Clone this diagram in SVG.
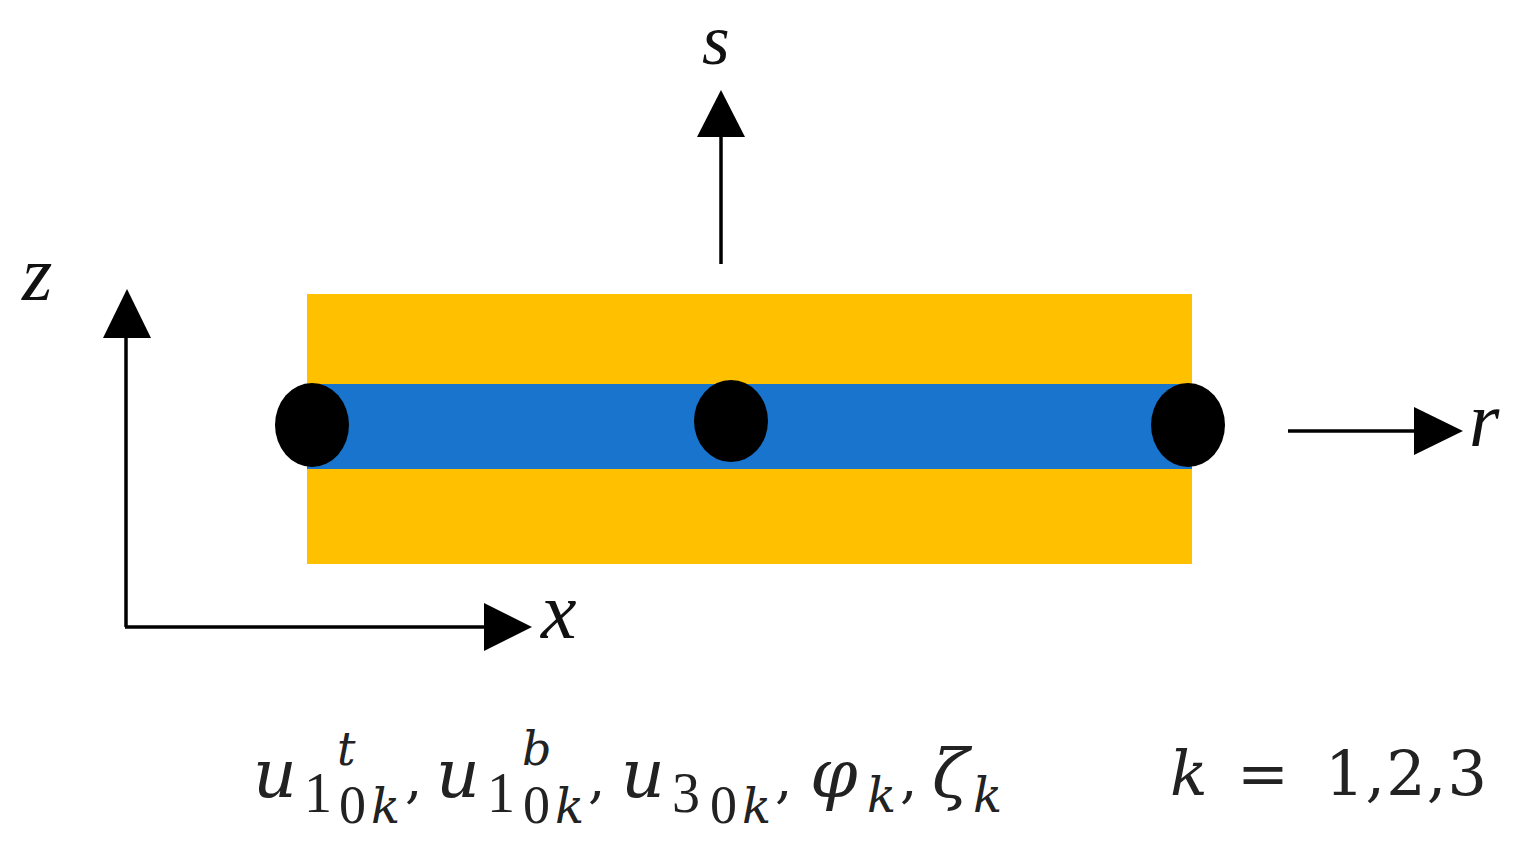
<svg xmlns="http://www.w3.org/2000/svg" width="1522" height="853" viewBox="0 0 1522 853">
<style>
.ax{fill:none;stroke:#000;stroke-width:3.5}
.it{font-family:"Liberation Serif",serif;font-style:italic;fill:#111}
.m{font-family:"DejaVu Serif","Liberation Serif",serif;fill:#222}
.d{font-family:"Liberation Serif",serif;fill:#222}
.mi{font-family:"DejaVu Serif","Liberation Serif",serif;font-style:italic;fill:#222}
.u{font-size:68px}
.big{font-size:56px}
.sub{font-size:54px}
.k{font-size:48px}
.c{font-size:55px}
</style>
<rect width="1522" height="853" fill="#fff"/>
<g id="plate">
<rect x="307" y="294" width="885" height="270" fill="#ffc000"/>
<rect x="307" y="384" width="885" height="85" fill="#1874cd"/>
</g>
<g id="node-left"><ellipse cx="312" cy="425" rx="37" ry="42"/></g>
<g id="node-mid"><ellipse cx="731" cy="421" rx="37" ry="41"/></g>
<g id="node-right"><ellipse cx="1188" cy="425" rx="37" ry="42"/></g>
<g id="connectors">
<path class="ax" d="M721 264V136"/><path d="M721 90L745 137H697Z"/>
<path class="ax" d="M126 627V336"/><path d="M127 289L151 338H103Z"/>
<path class="ax" d="M125 627H486"/><path d="M532 627L484 603V651Z"/>
<path class="ax" d="M1288 431H1416"/><path d="M1463 431L1414 407V455Z"/>
</g>
<g id="labels">
<text class="it" x="702" y="64" font-size="71">s</text>
<text class="it" x="22" y="300" font-size="78">z</text>
<text class="it" x="541" y="638" font-size="80">x</text>
<text class="it" x="1469" y="446" font-size="78">r</text>
<text class="mi u" x="253" y="797">u</text>
<text class="d big" x="304" y="812">1</text>
<text class="mi" x="337" y="765" font-size="46">t</text>
<text class="d sub" x="339" y="823">0</text>
<text class="mi k" x="371" y="823">k</text>
<text class="m c" x="405" y="797">,</text>
<text class="mi u" x="436" y="797">u</text>
<text class="d big" x="487" y="812">1</text>
<text class="mi" x="522" y="765" font-size="46">b</text>
<text class="d sub" x="523" y="823">0</text>
<text class="mi k" x="555" y="823">k</text>
<text class="m c" x="588" y="797">,</text>
<text class="mi u" x="621" y="797">u</text>
<text class="d big" x="672" y="812">3</text>
<text class="d sub" x="710" y="823">0</text>
<text class="mi k" x="742" y="823">k</text>
<text class="m c" x="775" y="797">,</text>
<text class="mi" x="810" y="797" font-size="68">φ</text>
<text class="mi k" x="867" y="812">k</text>
<text class="m c" x="900" y="797">,</text>
<text class="mi" x="932" y="797" font-size="68">ζ</text>
<text class="mi k" x="973" y="812">k</text>
<text class="mi" x="1170" y="795" font-size="62">k</text>
<text class="m" x="1237" y="795" font-size="62">=</text>
<text class="m" x="1325" y="795" font-size="62" textLength="162">1,2,3</text>
</g>
</svg>
